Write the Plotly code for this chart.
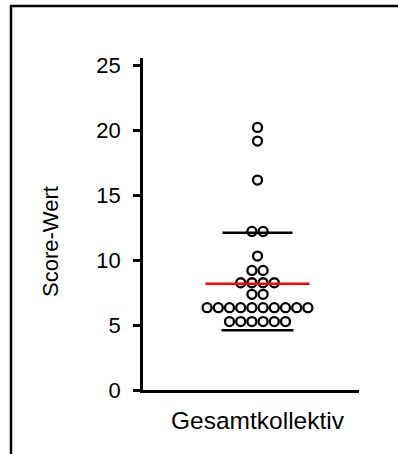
import plotly.graph_objects as go

# Score values of the whole cohort (one entry per patient)
scores = [
    20.2, 19.15, 16.15,
    12.2, 12.2,
    10.3,
    9.2, 9.2,
    8.25, 8.25, 8.25, 8.25,
    7.36, 7.36,
    6.33, 6.33, 6.33, 6.33, 6.33, 6.33, 6.33, 6.33, 6.33, 6.33,
    5.26, 5.26, 5.26, 5.26, 5.26, 5.26,
]
group_label = "Gesamtkollektiv"

# Summary lines: mean (red) and the upper / lower bars (black)
mean_value = 8.17
upper_value = 12.1
lower_value = 4.6

y_ticks = [0, 5, 10, 15, 20, 25]

# Beeswarm layout: points sharing a value are spread side by side
SPACING = 0.112
rows = {}
for v in scores:
    rows.setdefault(v, 0)
    rows[v] += 1
xs, ys = [], []
for v, n in rows.items():
    for i in range(n):
        xs.append((i - (n - 1) / 2) * SPACING)
        ys.append(v)

fig = go.Figure()

fig.add_trace(go.Scatter(
    x=xs, y=ys, mode="markers",
    marker=dict(symbol="circle-open", size=9, color="black",
                line=dict(color="black", width=2.3)),
    hoverinfo="y", showlegend=False,
))

def hline(y, half, color):
    fig.add_trace(go.Scatter(
        x=[-half, half], y=[y, y], mode="lines",
        line=dict(color=color, width=2.5),
        hoverinfo="skip", showlegend=False,
    ))

hline(mean_value, 0.52, "#ff0000")
hline(upper_value, 0.35, "black")
hline(lower_value, 0.36, "black")

font_family = "Liberation Sans, Arial, sans-serif"

fig.update_layout(
    width=398, height=454,
    margin=dict(l=143, r=39, t=58, b=64),
    paper_bgcolor="white", plot_bgcolor="white",
    font=dict(family=font_family, color="black"),
    xaxis=dict(
        range=[-1.145, 1.015], showgrid=False, zeroline=False,
        showline=True, linecolor="black", linewidth=2.5,
        tickvals=[0], ticktext=[group_label], ticks="",
        tickfont=dict(size=24.5), ticklabelstandoff=7,
        fixedrange=True,
    ),
    yaxis=dict(
        range=[0, 25.54], showgrid=False, zeroline=False,
        showline=True, linecolor="black", linewidth=2.5,
        tickvals=y_ticks, ticks="outside", ticklen=7, tickwidth=2.5,
        tickcolor="black", tickfont=dict(size=22), ticklabelstandoff=8,
        fixedrange=True,
    ),
    annotations=[dict(
        text="Score-Wert", textangle=-90, showarrow=False,
        xref="paper", yref="paper", x=(50 - 143) / 216, y=(390 - 242) / 332,
        xanchor="center", yanchor="middle",
        font=dict(size=22, family=font_family, color="black"),
    )],
    shapes=[dict(
        type="rect", xref="paper", yref="paper",
        x0=(11 - 143) / 216, x1=(430 - 143) / 216,
        y0=(390 - 480) / 332, y1=(390 - 6) / 332,
        line=dict(color="black", width=2.5), fillcolor="rgba(0,0,0,0)",
        layer="above",
    )],
)

fig.write_html("out.html")
